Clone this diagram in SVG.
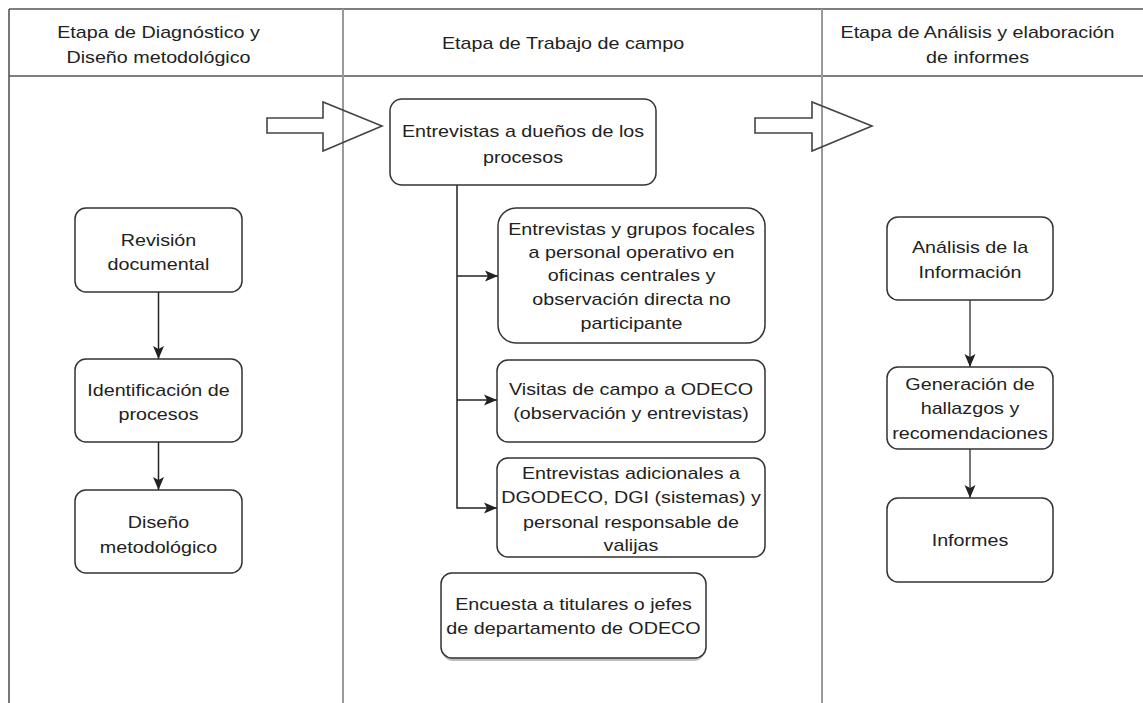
<svg xmlns="http://www.w3.org/2000/svg" width="1143" height="703" viewBox="0 0 1143 703">
<style>
.frame{stroke:#555;stroke-width:1.6;fill:none}
.div{stroke:#9a9a9a;stroke-width:2;fill:none}
.box{fill:#fff;stroke:#333;stroke-width:1.5}
.shadow{fill:#bdbdbd;stroke:none}
.blk{fill:none;stroke:#444;stroke-width:1.6;stroke-linejoin:miter}
.t{font-family:"Liberation Sans",Arial,Helvetica,sans-serif;font-size:17px;fill:#222;text-anchor:middle}
.c{stroke:#222;stroke-width:1.5;fill:none}
.cg{stroke:#777;stroke-width:2;fill:none}
</style>
<defs>
<marker id="ah" markerUnits="userSpaceOnUse" markerWidth="14" markerHeight="14" viewBox="0 0 14 14" refX="13" refY="7" orient="auto">
<path d="M0,1.5 L13,7 L0,12.5 L3,7 Z" fill="#222"/>
</marker>
</defs>
<rect width="1143" height="703" fill="#fff"/>
<g id="lanes">
<line class="frame" x1="9" y1="9" x2="1143" y2="9"/>
<line class="frame" x1="9" y1="76" x2="1143" y2="76"/>
<line class="frame" x1="9" y1="9" x2="9" y2="703"/>
<line class="div" x1="343" y1="9" x2="343" y2="703"/>
<line class="div" x1="822" y1="9" x2="822" y2="703"/>
<text class="t" transform="translate(158.5,0) scale(1.16,1)"><tspan x="0" y="38">Etapa de Diagnóstico y</tspan><tspan x="0" y="63">Diseño metodológico</tspan></text>
<text class="t" transform="translate(563,0) scale(1.16,1)"><tspan x="0" y="49">Etapa de Trabajo de campo</tspan></text>
<text class="t" transform="translate(977.5,0) scale(1.16,1)"><tspan x="0" y="38">Etapa de Análisis y elaboración</tspan><tspan x="0" y="63">de informes</tspan></text>
</g>
<g id="stage-arrows">
<polygon class="blk" points="267,118 323,118 323,102 382,126 323,151 323,133 267,133"/>
<polygon class="blk" points="755,118 812,118 812,102 872,126 812,151 812,133 755,133"/>
</g>
<g id="connectors">
<line class="c" x1="158.5" y1="292" x2="158.5" y2="359" marker-end="url(#ah)"/>
<line class="c" x1="158.5" y1="442" x2="158.5" y2="490" marker-end="url(#ah)"/>
<path class="c" d="M457,185 V508 H497" marker-end="url(#ah)"/>
<path class="c" d="M457,276 H498" marker-end="url(#ah)"/>
<path class="c" d="M457,400 H497" marker-end="url(#ah)"/>
<line class="cg" x1="970" y1="300" x2="970" y2="367" marker-end="url(#ah)"/>
<line class="cg" x1="970" y1="449" x2="970" y2="498" marker-end="url(#ah)"/>
</g>
<g id="n-revision">
<rect class="box" x="75" y="208" width="167" height="84" rx="11"/>
<text class="t" transform="translate(158.5,0) scale(1.16,1)"><tspan x="0" y="246">Revisión</tspan><tspan x="0" y="270">documental</tspan></text>
</g>
<g id="n-identificacion">
<rect class="box" x="75" y="359" width="167" height="83" rx="11"/>
<text class="t" transform="translate(158.5,0) scale(1.16,1)"><tspan x="0" y="396">Identificación de</tspan><tspan x="0" y="420">procesos</tspan></text>
</g>
<g id="n-diseno">
<rect class="box" x="75" y="490" width="167" height="83" rx="11"/>
<text class="t" transform="translate(158.5,0) scale(1.16,1)"><tspan x="0" y="528">Diseño</tspan><tspan x="0" y="553">metodológico</tspan></text>
</g>
<g id="n-duenos">
<rect class="box" x="390" y="99" width="266" height="86" rx="12"/>
<text class="t" transform="translate(523,0) scale(1.16,1)"><tspan x="0" y="137">Entrevistas a dueños de los</tspan><tspan x="0" y="163">procesos</tspan></text>
</g>
<g id="n-grupos">
<rect class="box" x="498" y="208" width="267" height="135" rx="18"/>
<text class="t" transform="translate(631.5,0) scale(1.16,1)"><tspan x="0" y="235">Entrevistas y grupos focales</tspan><tspan x="0" y="258">a personal operativo en</tspan><tspan x="0" y="281">oficinas centrales y</tspan><tspan x="0" y="305">observación directa no</tspan><tspan x="0" y="329">participante</tspan></text>
</g>
<g id="n-visitas">
<rect class="box" x="497" y="360" width="268" height="82" rx="11"/>
<text class="t" transform="translate(631,0) scale(1.16,1)"><tspan x="0" y="395">Visitas de campo a ODECO</tspan><tspan x="0" y="419">(observación y entrevistas)</tspan></text>
</g>
<g id="n-adicionales">
<rect class="box" x="497" y="458" width="268" height="99" rx="11"/>
<text class="t" transform="translate(631,0) scale(1.16,1)"><tspan x="0" y="479">Entrevistas adicionales a</tspan><tspan x="0" y="503">DGODECO, DGI (sistemas) y</tspan><tspan x="0" y="528">personal responsable de</tspan><tspan x="0" y="551">valijas</tspan></text>
</g>
<g id="n-encuesta">
<rect class="shadow" x="442" y="576" width="263" height="85" rx="11"/>
<rect class="box" x="441" y="573" width="265" height="85" rx="11"/>
<text class="t" transform="translate(573.5,0) scale(1.16,1)"><tspan x="0" y="610">Encuesta a titulares o jefes</tspan><tspan x="0" y="634">de departamento de ODECO</tspan></text>
</g>
<g id="n-analisis">
<rect class="box" x="887" y="217" width="166" height="83" rx="11"/>
<text class="t" transform="translate(970,0) scale(1.16,1)"><tspan x="0" y="253">Análisis de la</tspan><tspan x="0" y="278">Información</tspan></text>
</g>
<g id="n-hallazgos">
<rect class="box" x="887" y="367" width="166" height="82" rx="11"/>
<text class="t" transform="translate(970,0) scale(1.16,1)"><tspan x="0" y="390">Generación de</tspan><tspan x="0" y="414">hallazgos y</tspan><tspan x="0" y="439">recomendaciones</tspan></text>
</g>
<g id="n-informes">
<rect class="box" x="887" y="498" width="166" height="84" rx="11"/>
<text class="t" transform="translate(970,0) scale(1.16,1)"><tspan x="0" y="546">Informes</tspan></text>
</g>
</svg>
